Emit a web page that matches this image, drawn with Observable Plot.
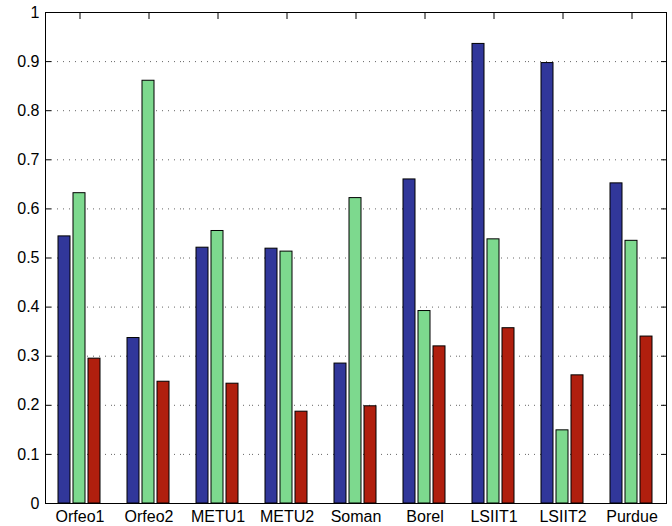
<!DOCTYPE html>
<html>
<head>
<meta charset="utf-8">
<script src="https://cdn.jsdelivr.net/npm/d3@7"></script>
<script src="https://cdn.jsdelivr.net/npm/@observablehq/plot@0.6"></script>
<style>
  html, body { margin: 0; padding: 0; background: #fff; }
</style>
</head>
<body>
<div id="chart"></div>
<script>
const categories = ["Orfeo1", "Orfeo2", "METU1", "METU2", "Soman", "Borel", "LSIIT1", "LSIIT2", "Purdue"];
const seriesNames = ["Series 1", "Series 2", "Series 3"];
const series1Values = [0.544, 0.337, 0.521, 0.519, 0.285, 0.660, 0.936, 0.897, 0.652];
const series2Values = [0.632, 0.861, 0.555, 0.513, 0.622, 0.392, 0.538, 0.149, 0.535];
const series3Values = [0.295, 0.248, 0.244, 0.187, 0.198, 0.320, 0.357, 0.261, 0.340];
const seriesColors = ["#31379a", "#7dd98e", "#b01f0e"];
const yTicks = [0, 0.1, 0.2, 0.3, 0.4, 0.5, 0.6, 0.7, 0.8, 0.9, 1];
const gridTicks = [0.1, 0.2, 0.3, 0.4, 0.5, 0.6, 0.7, 0.8, 0.9];

const allValues = [series1Values, series2Values, series3Values];
const rows = [];
categories.forEach((c, i) => {
  seriesNames.forEach((s, j) => rows.push({group: c, series: s, value: allValues[j][i]}));
});

const chart = Plot.plot({
  width: 672,
  height: 526,
  marginLeft: 44,
  marginRight: 5,
  marginTop: 12,
  marginBottom: 23,
  style: {fontFamily: "'Liberation Sans', Arial, sans-serif", fontSize: "16px", background: "#fff", color: "#000"},
  fx: {domain: categories, padding: 0, label: null},
  x: {domain: seriesNames, paddingInner: 0.18, paddingOuter: 0.85, axis: null},
  y: {domain: [0, 1], label: null},
  color: {domain: seriesNames, range: seriesColors},
  marks: [
    Plot.gridY(gridTicks, {stroke: "#666", strokeOpacity: 1, strokeDasharray: "1,5"}),
    Plot.axisFx({anchor: "bottom", tickSize: -6, fill: "none", label: null, stroke: "#000"}),
    Plot.axisY(yTicks, {anchor: "left", tickSize: -6, fill: "none", label: null, stroke: "#000"}),
    Plot.axisY(yTicks, {anchor: "right", tickSize: -6, fill: "none", label: null, stroke: "#000"}),
    Plot.axisFx({anchor: "top", tickSize: -6, fill: "none", label: null, stroke: "#000"}),
    Plot.barY(rows, {fx: "group", x: "series", y: "value", fill: "series", stroke: "#000", strokeWidth: 1}),
    Plot.frame({facet: "super", stroke: "#000", strokeWidth: 1}),
    Plot.axisY(yTicks, {anchor: "left", tickSize: 0, tickPadding: 6, tickFormat: d => String(d), label: null, fontSize: 16}),
    Plot.axisFx({anchor: "bottom", tickSize: 0, tickPadding: 7, label: null, fontSize: 16})
  ]
});
document.getElementById("chart").appendChild(chart);
</script>
</body>
</html>
